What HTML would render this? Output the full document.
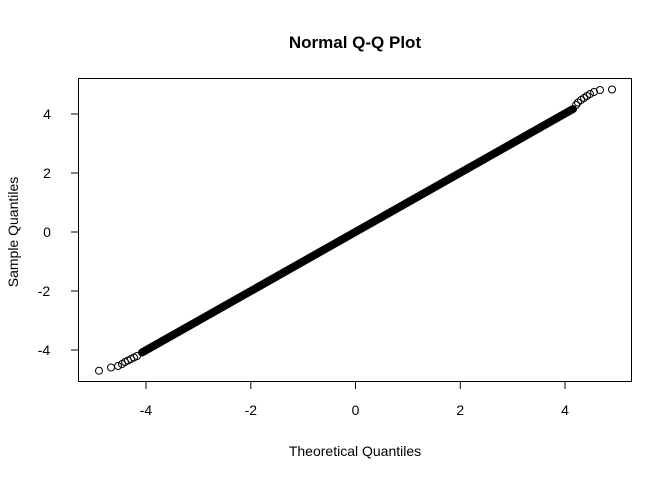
<!DOCTYPE html>
<html><head><style>body{margin:0;background:#fff}svg{display:block}text{font-family:"Liberation Sans",sans-serif;fill:#000}</style></head>
<body>
<svg width="672" height="480" viewBox="0 0 672 480">
<rect x="78.5" y="78.5" width="553" height="303" fill="none" stroke="#000" stroke-width="1"/>
<text x="355" y="48" font-size="17" font-weight="bold" text-anchor="middle">Normal Q-Q Plot</text>
<text x="355" y="456" font-size="14" text-anchor="middle">Theoretical Quantiles</text>
<text transform="translate(18,232) rotate(-90)" font-size="14" text-anchor="middle">Sample Quantiles</text>
<g stroke="#000" stroke-width="1">
<line x1="146" y1="381.5" x2="565" y2="381.5"/>
<line x1="146" y1="381.5" x2="146" y2="389"/>
<line x1="250.8" y1="381.5" x2="250.8" y2="389"/>
<line x1="355.5" y1="381.5" x2="355.5" y2="389"/>
<line x1="460.3" y1="381.5" x2="460.3" y2="389"/>
<line x1="565" y1="381.5" x2="565" y2="389"/>
<line x1="78.5" y1="114" x2="78.5" y2="350"/>
<line x1="71" y1="114" x2="78.5" y2="114"/>
<line x1="71" y1="173" x2="78.5" y2="173"/>
<line x1="71" y1="232" x2="78.5" y2="232"/>
<line x1="71" y1="291" x2="78.5" y2="291"/>
<line x1="71" y1="350" x2="78.5" y2="350"/>
</g>
<g font-size="14" text-anchor="middle">
<text x="146" y="415">-4</text><text x="250.8" y="415">-2</text><text x="355.5" y="415">0</text><text x="460.3" y="415">2</text><text x="565" y="415">4</text>
<text x="47" y="119">4</text>
<text x="47" y="178">2</text>
<text x="47" y="237">0</text>
<text x="44" y="296">-2</text>
<text x="44" y="355">-4</text>
</g>
<line x1="142" y1="352.5" x2="573" y2="109" stroke="#000" stroke-width="8" stroke-linecap="round"/>
<g fill="none" stroke="#000" stroke-width="1">
<circle cx="99" cy="370.7" r="3.5"/>
<circle cx="111" cy="367.5" r="3.5"/>
<circle cx="118" cy="366" r="3.5"/>
<circle cx="122" cy="364" r="3.5"/>
<circle cx="125" cy="362" r="3.5"/>
<circle cx="128" cy="360.5" r="3.5"/>
<circle cx="131" cy="359" r="3.5"/>
<circle cx="134" cy="357.5" r="3.5"/>
<circle cx="137" cy="356" r="3.5"/>
<circle cx="612" cy="89.5" r="3.5"/>
<circle cx="600" cy="90" r="3.5"/>
<circle cx="594" cy="92" r="3.5"/>
<circle cx="590" cy="94" r="3.5"/>
<circle cx="587" cy="96" r="3.5"/>
<circle cx="584" cy="98" r="3.5"/>
<circle cx="581" cy="100" r="3.5"/>
<circle cx="578" cy="102.5" r="3.5"/>
<circle cx="576" cy="105" r="3.5"/>
</g>
</svg>
</body></html>
